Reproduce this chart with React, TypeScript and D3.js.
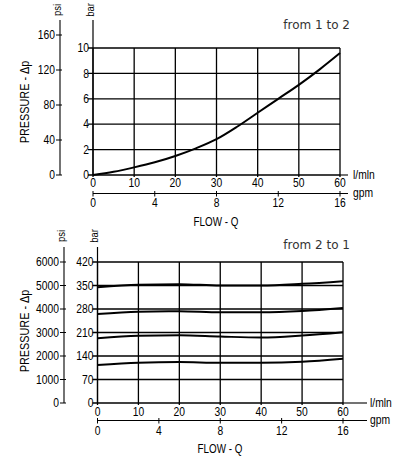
import React from "react";
import * as d3 from "d3";

// ---- data ----
const lpmTicks = [0, 10, 20, 30, 40, 50, 60];
const gpmTicks = [0, 4, 8, 12, 16];

const topPsiTicks = [0, 40, 80, 120, 160];
const topBarTicks = [0, 2, 4, 6, 8, 10];
const topFlow = [0, 5, 10, 15, 20, 25, 30, 35, 40, 45, 50, 55, 60];
const topCurve = [0, 0.25, 0.6, 1.0, 1.5, 2.1, 2.82, 3.8, 4.9, 6.0, 7.1, 8.3, 9.6];

const botPsiTicks = [0, 1000, 2000, 3000, 4000, 5000, 6000];
const botBarTicks = [0, 70, 140, 210, 280, 350, 420];
const botFlow = [0, 10, 20, 30, 40, 50, 60];
const botLine1 = [345, 352, 354, 350, 350, 355, 363];
const botLine2 = [265, 272, 273, 270, 270, 274, 283];
const botLine3 = [193, 200, 202, 198, 195, 201, 211];
const botLine4 = [113, 120, 122, 120, 120, 123, 132];

const FONT = "'Liberation Sans', Arial, sans-serif";

type NTextProps = {
  x: number;
  y: number;
  anchor?: "start" | "middle" | "end";
  size?: number;
  rotate?: number;
  sq?: number;
  dy?: string;
  children: React.ReactNode;
};

function NText({ x, y, anchor = "start", size = 12, rotate = 0, sq = 0.86, dy = "0.35em", children }: NTextProps) {
  return (
    <g transform={`translate(${x},${y}) rotate(${rotate}) scale(${sq},1)`}>
      <text x={0} y={0} dy={dy} textAnchor={anchor} fontFamily={FONT} fontSize={size} fill="#000">
        {children}
      </text>
    </g>
  );
}

type PanelProps = {
  psiX: number;
  barX: number;
  right: number;
  y0: number;
  yTop: number;
  axisTop: number;
  psiMax: number;
  psiTop: number;
  psiTicks: number[];
  barMax: number;
  barTicks: number[];
  lpmLabelY: number;
  gpmLineY: number;
  gpmLabelY: number;
  extRight: number;
  unitX: number;
  flowY: number;
  flowX: number;
  titleY: number;
  title: string;
  pressY: number;
  labelY: number;
  flows: number[];
  series: number[][];
};

function Panel(p: PanelProps) {
  const x = d3.scaleLinear().domain([0, 60]).range([p.barX, p.right]);
  const xg = d3.scaleLinear().domain([0, 16]).range([p.barX, p.right]);
  const yb = d3.scaleLinear().domain([0, p.barMax]).range([p.y0, p.yTop]);
  const yp = d3.scaleLinear().domain([0, p.psiMax]).range([p.y0, p.psiTop]);
  const line = d3
    .line<[number, number]>()
    .x((d) => x(d[0]))
    .y((d) => yb(d[1]))
    .curve(d3.curveMonotoneX);
  return (
    <g>
      {/* grid */}
      {p.barTicks.map((t) => (
        <line key={"h" + t} x1={p.barX - 5} x2={p.right} y1={yb(t)} y2={yb(t)} stroke="#000" strokeWidth={1.3} />
      ))}
      {lpmTicks.map((t) => (
        <line key={"v" + t} x1={x(t)} x2={x(t)} y1={p.yTop} y2={p.y0 + 2} stroke="#000" strokeWidth={1.3} />
      ))}
      <line x1={p.right} x2={p.extRight} y1={p.y0} y2={p.y0} stroke="#000" strokeWidth={1.1} />
      {/* bar axis */}
      <line x1={p.barX} x2={p.barX} y1={p.axisTop} y2={p.y0} stroke="#000" strokeWidth={1.2} />
      {p.barTicks.map((t) => (
        <NText key={"bl" + t} x={p.barX - 4} y={yb(t)} anchor="end">
          {t}
        </NText>
      ))}
      {/* psi axis */}
      <line x1={p.psiX} x2={p.psiX} y1={p.axisTop} y2={p.y0} stroke="#000" strokeWidth={1.1} />
      {p.psiTicks.map((t) => (
        <g key={"p" + t}>
          <line x1={p.psiX - 4} x2={p.psiX + 2} y1={yp(t)} y2={yp(t)} stroke="#000" strokeWidth={1} />
          <NText x={p.psiX - 5} y={yp(t)} anchor="end">
            {t}
          </NText>
        </g>
      ))}
      {/* unit labels */}
      <NText x={p.psiX - 3} y={p.labelY} rotate={-90} anchor="middle" size={11}>
        psi
      </NText>
      <NText x={p.barX - 3} y={p.labelY} rotate={-90} anchor="middle" size={11}>
        bar
      </NText>
      <NText x={25} y={p.pressY} rotate={-90} anchor="middle" size={12.5} sq={0.87}>
        PRESSURE - Δp
      </NText>
      {/* lpm labels */}
      {lpmTicks.map((t) => (
        <NText key={"xl" + t} x={x(t)} y={p.lpmLabelY} anchor="middle">
          {t}
        </NText>
      ))}
      <NText x={p.unitX} y={p.y0} dy="0.3em">
        l/mln
      </NText>
      {/* gpm axis */}
      <line x1={p.barX} x2={p.extRight} y1={p.gpmLineY} y2={p.gpmLineY} stroke="#000" strokeWidth={1.1} />
      {gpmTicks.map((t) => (
        <g key={"g" + t}>
          <line x1={xg(t)} x2={xg(t)} y1={p.gpmLineY - 2.5} y2={p.gpmLineY + 3} stroke="#000" strokeWidth={1} />
          <NText x={xg(t)} y={p.gpmLabelY} anchor="middle">
            {t}
          </NText>
        </g>
      ))}
      <NText x={p.unitX} y={p.gpmLineY} dy="0.3em">
        gpm
      </NText>
      <NText x={p.flowX} y={p.flowY} anchor="middle" dy="0" sq={0.82}>
        FLOW - Q
      </NText>
      <text x={350} y={p.titleY} textAnchor="end" fontFamily="'DejaVu Sans', Verdana, sans-serif" fontSize={12} fill="#333">
        {p.title}
      </text>
      {/* curves */}
      {p.series.map((s, i) => (
        <path
          key={"c" + i}
          d={line(p.flows.map((f, j) => [f, s[j]] as [number, number])) || ""}
          fill="none"
          stroke="#000"
          strokeWidth={2}
        />
      ))}
    </g>
  );
}

export default function App() {
  return (
    <svg width={398} height={463} style={{ position: "absolute", left: 0, top: 0, background: "#fff" }}>
      <rect width={398} height={463} fill="#fff" />
      <Panel
        psiX={60}
        barX={93}
        right={340}
        y0={175}
        yTop={48}
        axisTop={20}
        psiMax={160}
        psiTop={35}
        psiTicks={topPsiTicks}
        barMax={10}
        barTicks={topBarTicks}
        lpmLabelY={183}
        gpmLineY={193.5}
        gpmLabelY={203}
        extRight={348}
        unitX={353}
        flowY={226}
        flowX={216}
        titleY={29}
        title="from 1 to 2"
        pressY={102}
        labelY={10}
        flows={topFlow}
        series={[topCurve]}
      />
      <Panel
        psiX={64}
        barX={97.5}
        right={343}
        y0={403}
        yTop={262}
        axisTop={247}
        psiMax={6000}
        psiTop={262}
        psiTicks={botPsiTicks}
        barMax={420}
        barTicks={botBarTicks}
        lpmLabelY={412}
        gpmLineY={420.5}
        gpmLabelY={431}
        extRight={367}
        unitX={370}
        flowY={453}
        flowX={220}
        titleY={249}
        title="from 2 to 1"
        pressY={331}
        labelY={236}
        flows={botFlow}
        series={[botLine1, botLine2, botLine3, botLine4]}
      />
    </svg>
  );
}
